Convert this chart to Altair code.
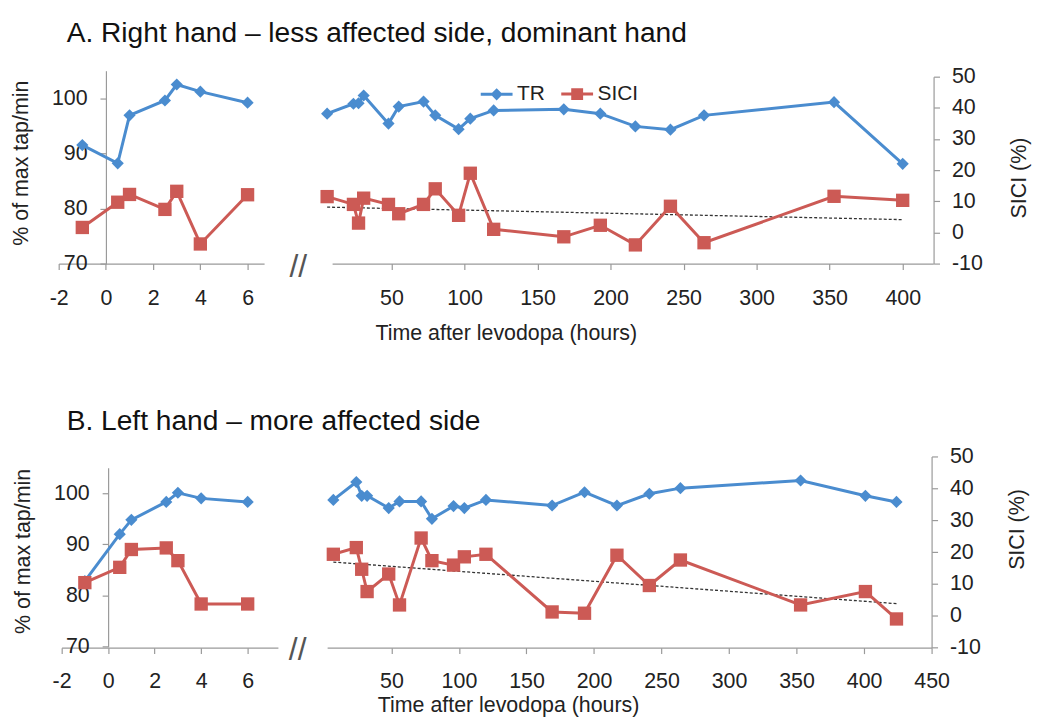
import altair as alt
import pandas as pd

FONT = "Liberation Sans"
BLUE = "#4a8ccf"
RED = "#cc5a55"
AXIS_GRAY = "#9a9a9a"
TEXT = "#222222"
FS = 21.5

series_names = ["TR", "SICI"]

# ---------- Panel A: right hand ----------
a_left_time = [-1, 0.5, 1, 2.5, 3, 4, 6]
a_left_tr = [91.5, 88.2, 96.9, 99.6, 102.5, 101.2, 99.2]
a_left_sici = [1.6, 9.7, 12.2, 7.4, 13.2, -3.7, 12.1]

a_right_time = [6, 24, 27.5, 31, 48, 55, 72, 80, 96, 104, 120, 168, 193, 217, 241, 264, 353, 400]
a_right_tr = [97.2, 99.0, 99.1, 100.5, 95.4, 98.5, 99.4, 96.9, 94.4, 96.3, 97.8, 98.0, 97.2, 94.9, 94.3, 96.9, 99.3, 88.1]
a_right_sici = [11.5, 9.0, 3.0, 11.0, 9.0, 6.0, 9.0, 14.0, 5.5, 19.0, 1.0, -1.4, 2.3, -4.0, 8.4, -3.3, 11.6, 10.3]

# ---------- Panel B: left hand ----------
b_left_time = [-1, 0.5, 1, 2.5, 3, 4, 6]
b_left_tr = [82.8, 92.0, 94.8, 98.3, 100.1, 99.0, 98.3]
b_left_sici = [10.4, 15.2, 20.8, 21.3, 17.3, 3.7, 3.7]

b_right_time = [7, 24, 28, 32, 48, 56, 72, 80, 96, 104, 120, 169, 193, 217, 241, 264, 353, 401, 424]
b_right_tr = [98.7, 102.2, 99.5, 99.5, 97.1, 98.4, 98.4, 95.0, 97.5, 97.1, 98.7, 97.6, 100.2, 97.6, 99.9, 101.0, 102.5, 99.5, 98.3]
b_right_sici = [19.3, 21.4, 14.6, 7.6, 13.1, 3.4, 24.4, 17.3, 15.9, 18.5, 19.3, 1.2, 0.8, 19.0, 9.5, 17.5, 3.4, 7.6, -1.0]

# ---------- ticks ----------
tr_ticks = [70, 80, 90, 100]
sici_ticks = [-10, 0, 10, 20, 30, 40, 50]
left_x_ticks = [-2, 0, 2, 4, 6]
a_right_x_ticks = [50, 100, 150, 200, 250, 300, 350, 400]
b_right_x_ticks = [50, 100, 150, 200, 250, 300, 350, 400, 450]
break_pos = {"time": [8.15], "TR": [69.4], "txt": ["//"]}

TR_PATH = "M-1,0H1M0,-0.25L0.25,0L0,0.25L-0.25,0Z"
SI_PATH = "M-1,0H1M-0.28,-0.28H0.28V0.28H-0.28Z"

HYPHEN = "replace(datum.label, '\u2212', '-')"

axis_common = dict(grid=False, domainColor=AXIS_GRAY, tickColor=AXIS_GRAY, tickSize=6,
                   domainWidth=1.2, tickWidth=1.2,
                   labelFont=FONT, labelFontSize=FS, labelColor=TEXT,
                   titleFont=FONT, titleFontSize=FS, titleColor=TEXT, titleFontWeight="normal",
                   labelFlush=False, labelExpr=HYPHEN)


def make_row(title, lt, ltr, lsi, rt, rtr, rsi, p):
    left = pd.DataFrame({"time": lt, "TR": ltr, "SICI": lsi})
    right = pd.DataFrame({"time": rt, "TR": rtr, "SICI": rsi})
    brk = pd.DataFrame(break_pos)

    xL = alt.Scale(domain=p["xl_dom"], range=p["xl_rng"], nice=False, zero=False)
    xR = alt.Scale(domain=p["xr_dom"], range=p["xr_rng"], nice=False, zero=False)
    yT = alt.Scale(domain=[70, 105], range=p["ytr_rng"], nice=False, zero=False)
    yS = alt.Scale(domain=[-10, 50], range=p["ysi_rng"], nice=False, zero=False)

    left_x_axis = alt.Axis(orient="bottom", values=left_x_ticks, title=None,
                           labelPadding=p["xlab_pad"], **axis_common)
    left_y_axis = alt.Axis(orient="left", offset=p["yoff"], values=tr_ticks,
                           title="% of max tap/min", titleAngle=270,
                           titleX=-85, titleY=p["ytitle_y"], titleAlign="center",
                           titleBaseline="middle", labelPadding=13, **axis_common)
    right_x_axis = alt.Axis(orient="bottom", values=p["xr_ticks"],
                            title="Time after levodopa (hours)",
                            titleX=p["xtitle_x"], titleY=p["xtitle_y"], titleAlign="center",
                            titleBaseline="alphabetic",
                            labelPadding=p["xlab_pad"], **axis_common)
    right_y_axis = alt.Axis(orient="right", values=sici_ticks, title="SICI (%)",
                            titleAngle=270, titleX=86, titleY=p["stitle_y"],
                            titleAlign="center", titleBaseline="middle",
                            labelPadding=12, **axis_common)

    def xl(axis=None):
        return alt.X("time:Q", scale=xL, axis=axis)

    def xr(axis=None):
        return alt.X("time:Q", scale=xR, axis=axis)

    layers = []
    # left panel
    layers.append(alt.Chart(left).mark_line(color=BLUE, strokeWidth=3).encode(
        x=xl(left_x_axis), y=alt.Y("TR:Q", scale=yT, axis=left_y_axis)))
    layers.append(alt.Chart(left).mark_point(shape="diamond", filled=True, size=150,
                                             color=BLUE, opacity=1).encode(
        x=xl(), y=alt.Y("TR:Q", scale=yT, axis=None)))
    layers.append(alt.Chart(left).mark_line(color=RED, strokeWidth=3).encode(
        x=xl(), y=alt.Y("SICI:Q", scale=yS, axis=None)))
    layers.append(alt.Chart(left).mark_point(shape="square", filled=True, size=180,
                                             color=RED, opacity=1).encode(
        x=xl(), y=alt.Y("SICI:Q", scale=yS, axis=None)))
    # right panel
    layers.append(alt.Chart(right).transform_regression("time", "SICI").mark_line(
        color="#333333", strokeDash=[3, 2], strokeWidth=1.3).encode(
        x=xr(), y=alt.Y("SICI:Q", scale=yS, axis=None)))
    layers.append(alt.Chart(right).mark_line(color=BLUE, strokeWidth=3).encode(
        x=xr(), y=alt.Y("TR:Q", scale=yT, axis=None)))
    layers.append(alt.Chart(right).mark_point(shape="diamond", filled=True, size=150,
                                              color=BLUE, opacity=1).encode(
        x=xr(), y=alt.Y("TR:Q", scale=yT, axis=None)))
    layers.append(alt.Chart(right).mark_line(color=RED, strokeWidth=3).encode(
        x=xr(right_x_axis), y=alt.Y("SICI:Q", scale=yS, axis=right_y_axis)))
    layers.append(alt.Chart(right).mark_point(shape="square", filled=True, size=180,
                                              color=RED, opacity=1).encode(
        x=xr(), y=alt.Y("SICI:Q", scale=yS, axis=None)))
    # axis break mark
    layers.append(alt.Chart(brk).mark_text(font=FONT, fontSize=32, color="#555555",
                                           align="center", baseline="middle").encode(
        x=xl(), y=alt.Y("TR:Q", scale=yT, axis=None), text="txt:N"))
    # legend
    leg = dict(title=None, orient="none", legendX=p["leg_x"], legendY=p["leg_y"],
               direction="horizontal", symbolSize=1024, symbolStrokeWidth=3,
               symbolOpacity=1, labelFont=FONT, labelFontSize=21, labelColor=TEXT,
               labelOffset=3, columnPadding=10, padding=0)
    legend_data = pd.DataFrame({"series": pd.Series([], dtype=str)})
    layers.append(alt.Chart(legend_data).mark_point(filled=True, opacity=1, strokeWidth=3).encode(
        fill=alt.Fill("series:N", scale=alt.Scale(domain=series_names, range=[BLUE, RED]),
                      legend=alt.Legend(**leg)),
        stroke=alt.Stroke("series:N", scale=alt.Scale(domain=series_names, range=[BLUE, RED]),
                          legend=alt.Legend(**leg)),
        shape=alt.Shape("series:N", scale=alt.Scale(domain=series_names, range=[TR_PATH, SI_PATH]),
                        legend=alt.Legend(**leg)),
    ))

    return alt.layer(*layers).resolve_scale(x="independent", y="independent").properties(
        width=p["width"], height=p["height"],
        title=alt.TitleParams(title, anchor="start", frame="group", dx=8,
                              font=FONT, fontSize=28.3, fontWeight="normal", color="#111111",
                              baseline="alphabetic", offset=p["title_off"]),
    )


pa = dict(width=880, height=194,
          xl_dom=[-2, 6.7], xl_rng=[0, 206.6], yoff=-47.5,
          xr_dom=[9.4, 421], xr_rng=[275, 879.8], xr_ticks=a_right_x_ticks,
          ytr_rng=[194, 0], ysi_rng=[194, 6],
          xlab_pad=18.5, xtitle_x=449.7, xtitle_y=76,
          ytitle_y=92.5, stitle_y=107.5,
          leg_x=423, leg_y=6, title_off=-4)
pb = dict(width=878, height=192.3,
          xl_dom=[-2, 7.3], xl_rng=[2.9, 220.5], yoff=-49.7,
          xr_dom=[2.4, 450], xr_rng=[270, 878], xr_ticks=b_right_x_ticks,
          ytr_rng=[191.3, 11.3], ysi_rng=[192.3, 0],
          xlab_pad=17, xtitle_x=452, xtitle_y=64,
          ytitle_y=95, stitle_y=73,
          leg_x=438, leg_y=7, title_off=-13)

row_a = make_row("A. Right hand – less affected side, dominant hand",
                 a_left_time, a_left_tr, a_left_sici,
                 a_right_time, a_right_tr, a_right_sici, pa)
row_b = make_row("B. Left hand – more affected side",
                 b_left_time, b_left_tr, b_left_sici,
                 b_right_time, b_right_tr, b_right_sici, pb)

chart = alt.vconcat(row_a, row_b, spacing=63).properties(
    padding={"left": 2, "top": 8, "right": 2, "bottom": 2},
    background="white",
).configure(font=FONT).configure_view(strokeWidth=0, stroke="transparent")

chart.save("out.html", embed_options={"renderer": "svg", "actions": False})
